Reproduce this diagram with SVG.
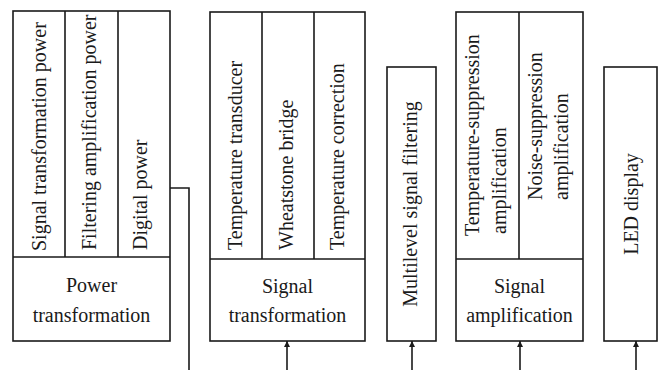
<svg xmlns="http://www.w3.org/2000/svg" width="662" height="370" viewBox="0 0 662 370">
<defs>
<style>
.box{fill:#fff;stroke:#1a1a1a;stroke-width:1.6}
.div{stroke:#1a1a1a;stroke-width:1.6;fill:none}
.t{font-family:'Liberation Serif','Times New Roman',serif;font-size:20px;fill:#1a1a1a}
.c{text-anchor:middle}
.ln{stroke:#1a1a1a;stroke-width:1.6;fill:none}
</style>
<marker id="ah" viewBox="0 0 10 10" refX="10" refY="5" markerWidth="6" markerHeight="6" markerUnits="userSpaceOnUse" orient="auto">
<path d="M0,0 L10,5 L0,10 z" fill="#1a1a1a"/>
</marker>
</defs>
<rect width="662" height="370" fill="#fff"/>

<g id="power">
<rect class="box" x="13" y="11" width="157" height="330"/>
<path class="div" d="M13,257 H170 M65,11 V257 M118,11 V257"/>
<text class="t" x="46" y="251" transform="rotate(-90 46 251)">Signal transformation power</text>
<text class="t" x="96" y="250" transform="rotate(-90 96 250)">Filtering amplification power</text>
<text class="t" x="147" y="250" transform="rotate(-90 147 250)">Digital power</text>
<text class="t c" x="91.5" y="292">Power</text>
<text class="t c" x="91.5" y="322">transformation</text>
</g>

<g id="signal-transformation">
<rect class="box" x="210" y="12" width="155" height="329"/>
<path class="div" d="M210,259 H365 M262,12 V259 M314,12 V259"/>
<text class="t" x="242" y="250" transform="rotate(-90 242 250)">Temperature transducer</text>
<text class="t" x="293" y="250" transform="rotate(-90 293 250)">Wheatstone bridge</text>
<text class="t" x="344" y="250" transform="rotate(-90 344 250)">Temperature correction</text>
<text class="t c" x="287.5" y="293">Signal</text>
<text class="t c" x="287.5" y="322">transformation</text>
</g>

<g id="filtering">
<rect class="box" x="387" y="67" width="49" height="274"/>
<text class="t c" x="417" y="204" transform="rotate(-90 417 204)">Multilevel signal filtering</text>
</g>

<g id="signal-amplification">
<rect class="box" x="456" y="12" width="127" height="329"/>
<path class="div" d="M456,259 H583 M519,12 V259"/>
<text class="t" x="479" y="236" transform="rotate(-90 479 236)">Temperature-suppression</text>
<text class="t" x="506" y="234" transform="rotate(-90 506 234)">amplification</text>
<text class="t" x="542" y="200" transform="rotate(-90 542 200)">Noise-suppression</text>
<text class="t" x="568" y="200" transform="rotate(-90 568 200)">amplification</text>
<text class="t c" x="519.5" y="293">Signal</text>
<text class="t c" x="519.5" y="322">amplification</text>
</g>

<g id="led">
<rect class="box" x="604" y="67" width="53" height="274"/>
<text class="t c" x="638" y="204" transform="rotate(-90 638 204)">LED display</text>
</g>

<g id="connectors">
<path class="ln" d="M170,188 H189 V370"/>
<path class="ln" d="M287,370 V341" marker-end="url(#ah)"/>
<path class="ln" d="M412,370 V341" marker-end="url(#ah)"/>
<path class="ln" d="M520,370 V341" marker-end="url(#ah)"/>
<path class="ln" d="M636,370 V341" marker-end="url(#ah)"/>
</g>
</svg>
